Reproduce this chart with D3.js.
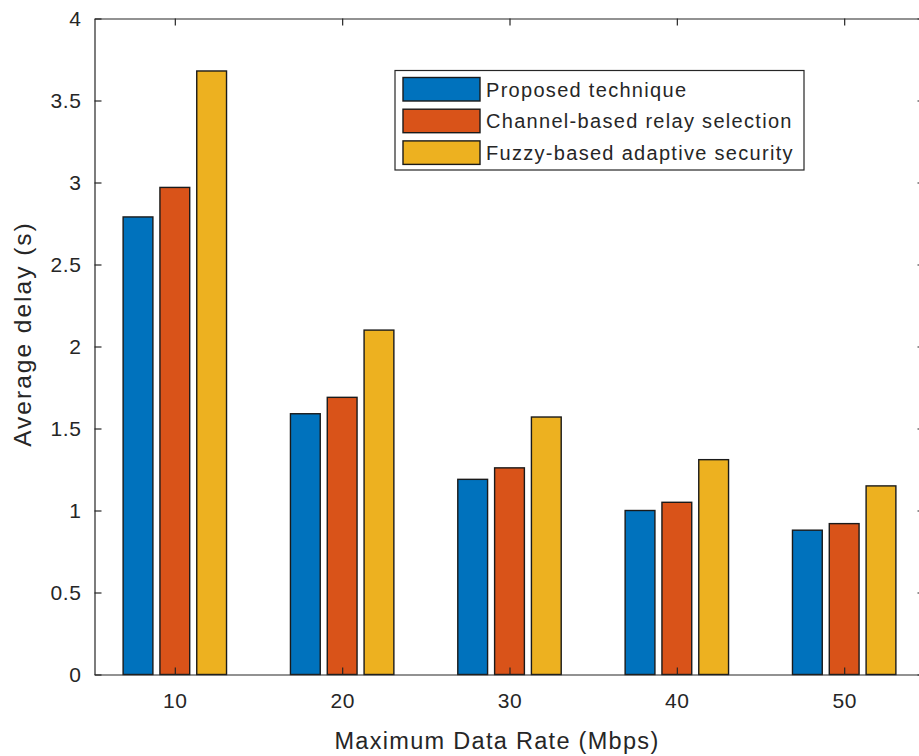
<!DOCTYPE html>
<html>
<head>
<meta charset="utf-8">
<script src="https://cdn.jsdelivr.net/npm/d3@7"></script>
<style>
  html, body { margin: 0; padding: 0; background: #fff; }
  svg text { font-family: "Liberation Sans", Arial, Helvetica, sans-serif; fill: #262626; }
</style>
</head>
<body>
<svg id="chart" width="919" height="756"></svg>
<script>
// Average delay per maximum data rate, three methods
const rates = [10, 20, 30, 40, 50];
const seriesNames = ["Proposed technique", "Channel-based relay selection", "Fuzzy-based adaptive security"];
const proposed = [2.79, 1.59, 1.19, 1.00, 0.88];
const channelBased = [2.97, 1.69, 1.26, 1.05, 0.92];
const fuzzyBased = [3.68, 2.10, 1.57, 1.31, 1.15];
const yTicks = [0, 0.5, 1, 1.5, 2, 2.5, 3, 3.5, 4];
const yTickLabels = ["0", "0.5", "1", "1.5", "2", "2.5", "3", "3.5", "4"];
const colors = ["#0072BD", "#D95319", "#EDB120"];

const series = [proposed, channelBased, fuzzyBased];

const svg = d3.select("#chart");
const plotLeft = 94.5, plotRight = 924.5, plotTop = 18.5, plotBottom = 674.5;

const x = d3.scaleLinear().domain([5.2, 54.8]).range([plotLeft, plotRight]);
const y = d3.scaleLinear().domain([0, 4]).range([plotBottom, plotTop]);

const barW = 1.78;      // bar width in data units
const step = 2.2;       // offset between bars within a group

// bars
series.forEach((vals, si) => {
  svg.append("g")
    .selectAll("rect")
    .data(vals.map((v, i) => ({ r: rates[i], v })))
    .join("rect")
    .attr("x", d => x(d.r + (si - 1) * step - barW / 2))
    .attr("width", d => x(d.r + barW / 2) - x(d.r - barW / 2))
    .attr("y", d => y(d.v))
    .attr("height", d => y(0) - y(d.v))
    .attr("fill", colors[si])
    .attr("stroke", "#1a1a1a")
    .attr("stroke-width", 1.4);
});

// axes
const tickFont = "21px";
const axisColor = "#262626";

const yAxis = d3.axisLeft(y).tickValues(yTicks).tickFormat((d, i) => yTickLabels[i])
  .tickSizeInner(-7).tickSizeOuter(0).tickPadding(13);
const gy = svg.append("g").attr("transform", `translate(${plotLeft},0)`).call(yAxis);
gy.selectAll("text").style("font-size", tickFont).style("letter-spacing", "0.6px").attr("dy", "0.35em");

const xAxis = d3.axisBottom(x).tickValues(rates).tickFormat(d3.format("d"))
  .tickSizeInner(-7).tickSizeOuter(0).tickPadding(19);
const gx = svg.append("g").attr("transform", `translate(0,${plotBottom})`).call(xAxis);
gx.selectAll("text").style("font-size", tickFont).style("letter-spacing", "0.6px");

// mirrored ticks on top and right
const gt = svg.append("g").attr("transform", `translate(0,${plotTop})`)
  .call(d3.axisTop(x).tickValues(rates).tickFormat("").tickSizeInner(-7).tickSizeOuter(0));
const gr = svg.append("g").attr("transform", `translate(${plotRight},0)`)
  .call(d3.axisRight(y).tickValues(yTicks).tickFormat("").tickSizeInner(-7).tickSizeOuter(0));

[gx, gy, gt, gr].forEach(g => {
  g.select(".domain").attr("stroke", axisColor).attr("stroke-width", 1.2);
  g.selectAll(".tick line").attr("stroke", axisColor).attr("stroke-width", 1.2);
});

// axis titles
svg.append("text")
  .attr("x", 497).attr("y", 749)
  .attr("text-anchor", "middle")
  .style("font-size", "23.5px").style("letter-spacing", "1.3px")
  .text("Maximum Data Rate (Mbps)");

svg.append("text")
  .attr("transform", "translate(31,334) rotate(-90)")
  .attr("text-anchor", "middle")
  .style("font-size", "24.5px").style("letter-spacing", "2px")
  .text("Average delay (s)");

// legend
const lg = svg.append("g");
lg.append("rect")
  .attr("x", 395).attr("y", 70.5).attr("width", 409).attr("height", 99.5)
  .attr("fill", "#fff").attr("stroke", axisColor).attr("stroke-width", 1.2);
seriesNames.forEach((name, i) => {
  const ry = 77.5 + i * 31.7;
  lg.append("rect")
    .attr("x", 403).attr("y", ry).attr("width", 77).attr("height", 23.5)
    .attr("fill", colors[i]).attr("stroke", "#1a1a1a").attr("stroke-width", 1.4);
  lg.append("text")
    .attr("x", 486).attr("y", ry + 12).attr("dy", "0.35em")
    .style("font-size", "20px").style("letter-spacing", "1.3px")
    .text(name);
});
</script>
</body>
</html>
